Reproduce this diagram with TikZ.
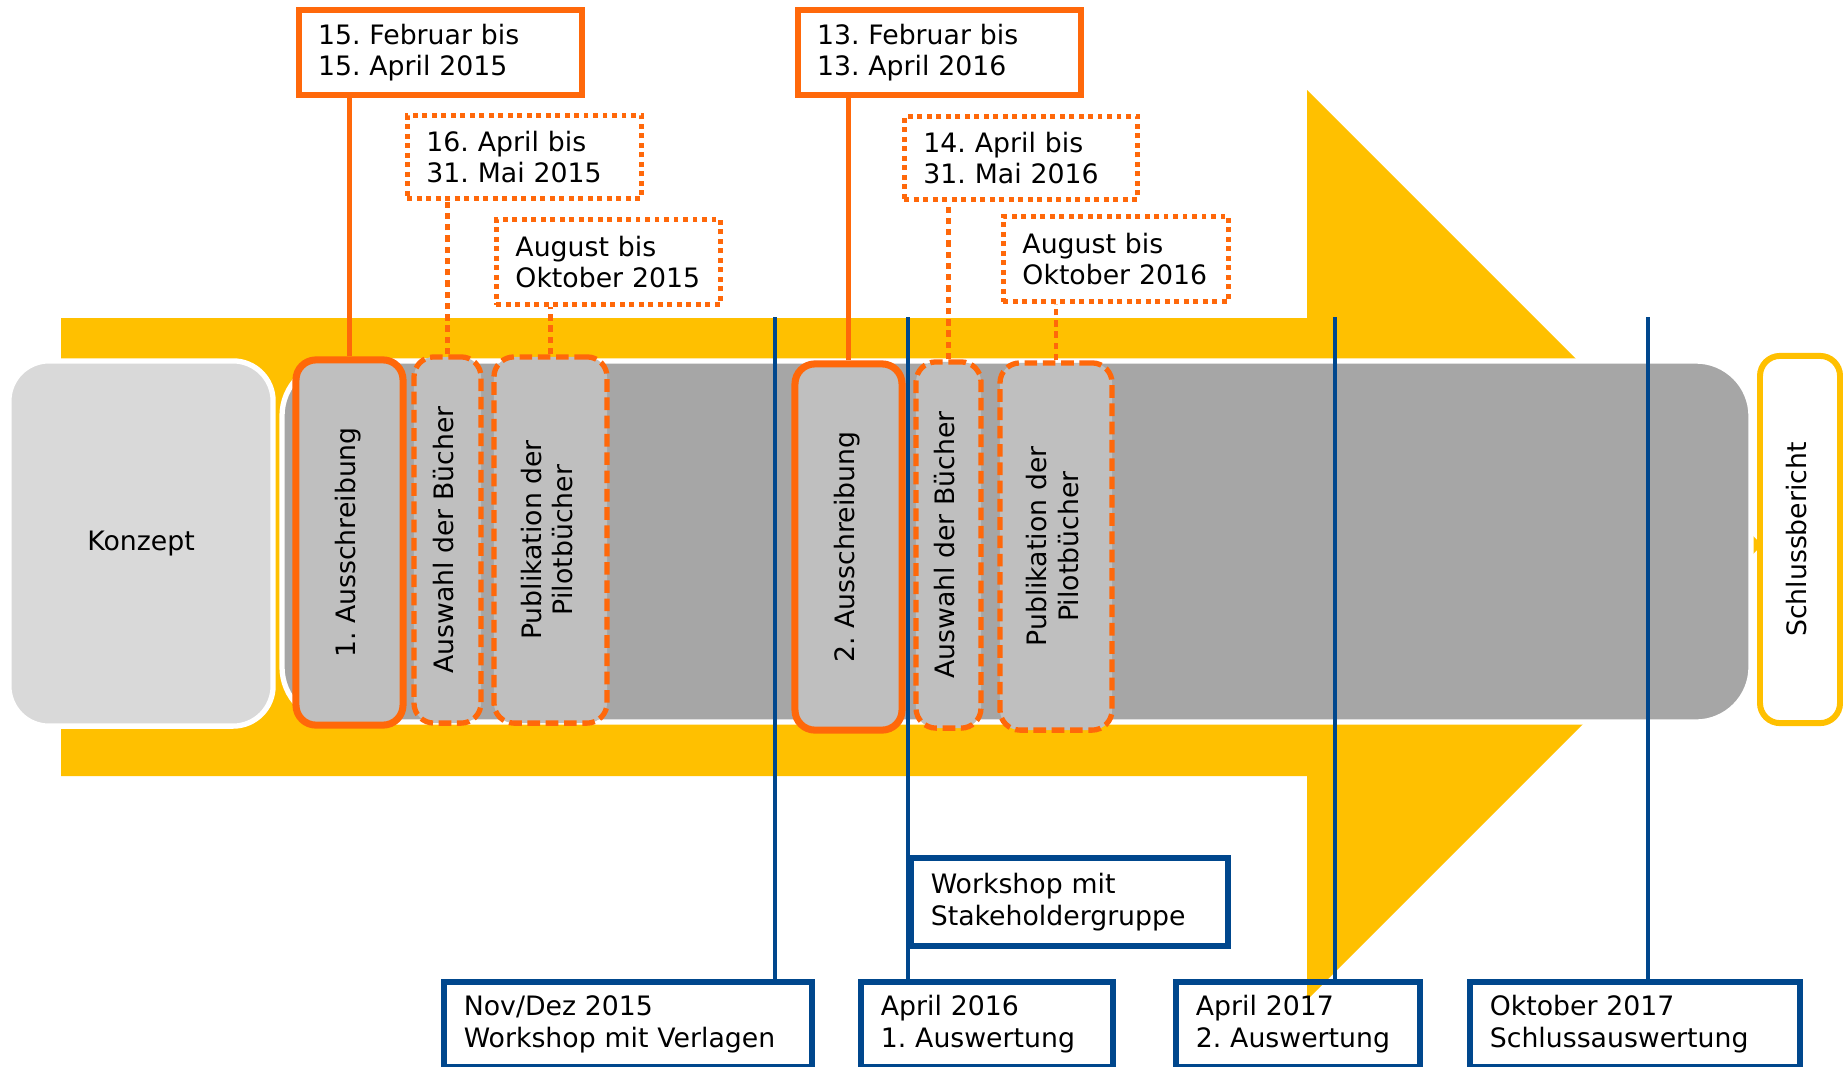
\documentclass[tikz,border=0pt]{standalone}
\usepackage{fontspec}
\setmainfont{DejaVu Sans}
\usetikzlibrary{positioning}
\tikzset{>=stealth}
\frenchspacing

\definecolor{gelb}{RGB}{255,192,0}
\definecolor{borange}{RGB}{255,104,10}
\definecolor{dblau}{RGB}{0,71,141}
\definecolor{band}{RGB}{166,166,166}
\definecolor{hgrau}{RGB}{191,191,191}
\definecolor{kgrau}{RGB}{217,217,217}

\newcommand\schrift{\fontsize{7.6}{9}\selectfont}
\newcommand\hoch[1]{\rotatebox{90}{\begin{tabular}{@{}c@{}}#1\end{tabular}}}

\tikzset{
  datum/.style={draw=borange, fill=white, line width=1.7pt, align=left, anchor=north west,
    inner xsep=0.19cm, inner ysep=0pt, minimum height=0.85cm, font=\schrift},
  datumfest/.style={datum},
  datumlose/.style={datum, line width=1.4pt, dash pattern=on 1.4pt off 1.3pt},
  phase/.style={fill=hgrau, draw=borange, rounded corners=0.2cm, inner sep=0pt, font=\schrift},
  phasefest/.style={phase, line width=2pt},
  phaselose/.style={phase, line width=1.5pt, dash pattern=on 3.6pt off 1.6pt},
  verb/.style={draw=borange, line width=1.4pt},
  verblose/.style={verb, line width=1.3pt, dash pattern=on 1.8pt off 1.4pt},
  info/.style={draw=dblau, line width=1.6pt, align=left, anchor=north west,
    inner xsep=0.2cm, inner ysep=0pt, font=\schrift},
  zeit/.style={draw=dblau, line width=1pt}
}

\begin{document}
\begin{tikzpicture}[x=0.01cm, y=-0.01cm]
        \useasboundingbox (0,0) rectangle (1843,1066);

        \fill[gelb] (61,318) -- (1307,318) -- (1307,90) -- (1762,545) -- (1307,1000) -- (1307,776) -- (61,776) -- cycle;
        \draw[fill=band, draw=white, line width=1.5pt, rounded corners=0.55cm] (282,361) rectangle (1751,722);

        \node[fill=kgrau, draw=white, line width=1.5pt, rounded corners=0.4cm, minimum width=2.64cm,
              minimum height=3.65cm, font=\schrift] (konz) at (141,543.5) {Konzept};
        \node[fill=white, draw=gelb, line width=1.7pt, rounded corners=0.2cm, minimum width=0.8cm,
              minimum height=3.67cm, font=\schrift] (schluss) at (1800,539.5) {\hoch{Schlussbericht}};

        \node[phasefest, minimum width=1.07cm, minimum height=3.65cm] (aus1) at (349.5,542.5) {\hoch{1. Ausschreibung}};
        \node[phaselose, minimum width=0.67cm, minimum height=3.66cm] (wahl1) at (447.5,540) {\hoch{Auswahl der Bücher}};
        \node[phaselose, minimum width=1.13cm, minimum height=3.66cm] (pub1) at (550.5,540) {\hoch{Publikation der\\Pilotbücher}};
        \node[phasefest, minimum width=1.07cm, minimum height=3.66cm] (aus2) at (848.5,547) {\hoch{2. Ausschreibung}};
        \node[phaselose, minimum width=0.65cm, minimum height=3.66cm] (wahl2) at (948.5,545) {\hoch{Auswahl der Bücher}};
        \node[phaselose, minimum width=1.12cm, minimum height=3.67cm] (pub2) at (1056,546.5) {\hoch{Publikation der\\Pilotbücher}};

        \node[datumfest, text width=2.45cm] (d1) at (296,7) {15. Februar bis\\15. April 2015};
        \node[datumlose, text width=1.96cm, minimum height=0.83cm] (d2) at (405,113) {16. April bis\\31. Mai 2015};
        \node[datumlose, text width=1.86cm] (d3) at (494,217) {August bis\\Oktober 2015};
        \node[datumfest, text width=2.45cm] (d4) at (795,7) {13. Februar bis\\13. April 2016};
        \node[datumlose, text width=1.95cm, minimum height=0.83cm] (d5) at (902,114) {14. April bis\\31. Mai 2016};
        \node[datumlose, text width=1.87cm] (d6) at (1001,214) {August bis\\Oktober 2016};

        \draw[verb] (aus1.north) -- (aus1.north |- d1.south);
        \draw[verblose] (wahl1.north) -- (wahl1.north |- d2.south);
        \draw[verblose] (pub1.north) -- (pub1.north |- d3.south);
        \draw[verb] (aus2.north) -- (aus2.north |- d4.south);
        \draw[verblose] (wahl2.north) -- (wahl2.north |- d5.south);
        \draw[verblose] (pub2.north) -- (pub2.north |- d6.south);

        \node[info, text width=2.77cm, minimum height=0.88cm] (stake) at (908,855) {Workshop mit\\Stakeholdergruppe};
        \node[info, text width=3.28cm, minimum height=0.85cm] (nov) at (441,979) {Nov/Dez 2015\\Workshop mit Verlagen};
        \node[info, text width=2.12cm, minimum height=0.85cm] (apr16) at (858,979) {April 2016\\1. Auswertung};
        \node[info, text width=2.04cm, minimum height=0.85cm] (apr17) at (1173,979) {April 2017\\2. Auswertung};
        \node[info, text width=2.90cm, minimum height=0.85cm] (okt17) at (1467,979) {Oktober 2017\\Schlussauswertung};

        \foreach \n/\x in {1/775, 2/908, 3/1335, 4/1648}
        \coordinate (t\n) at (\x,317);
        \foreach \n/\b in {1/nov, 2/apr16, 3/apr17, 4/okt17}
        \draw[zeit] (t\n) -- (t\n |- \b.north);

\end{tikzpicture}
\end{document}
